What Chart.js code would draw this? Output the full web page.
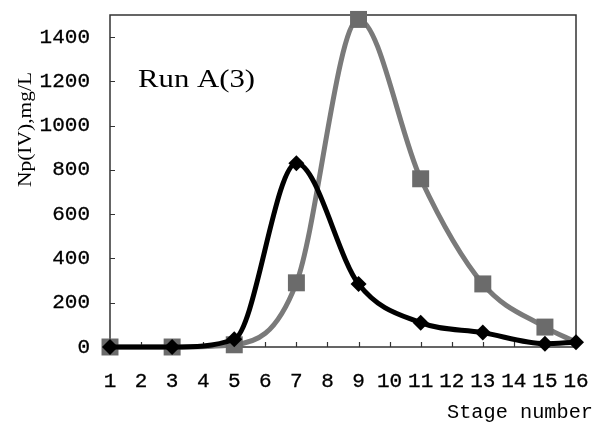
<!DOCTYPE html>
<html>
<head>
<meta charset="utf-8">
<script src="https://cdn.jsdelivr.net/npm/chart.js@4/dist/chart.umd.min.js"></script>
<style>
  html, body { margin: 0; padding: 0; background: #fff; }
  #wrap { position: relative; width: 593px; height: 431px; }
</style>
</head>
<body>
<div id="wrap"><canvas id="c" width="593" height="431"></canvas></div>
<script>
// stages sampled in the run
var stages = [1, 3, 5, 7, 9, 11, 13, 15, 16];
// Np(IV) mg/L, diamonds (black) and squares (grey)
var diamondSeries = [0, 0, 35, 830, 285, 110, 65, 15, 22];
var squareSeries = [0, 0, 10, 290, 1480, 760, 285, 90, 22];
var yTicks = [0, 200, 400, 600, 800, 1000, 1200, 1400];
var xTicks = [1, 2, 3, 4, 5, 6, 7, 8, 9, 10, 11, 12, 13, 14, 15, 16];

function pts(vals) {
  return stages.map(function (s, i) { return { x: s, y: vals[i] }; });
}

// draw text squeezed/stretched to a given width
function fitText(ctx, txt, x, y, w) {
  var m = ctx.measureText(txt).width;
  ctx.save();
  ctx.translate(x, y);
  ctx.scale(w / m, 1);
  ctx.fillText(txt, 0, 0);
  ctx.restore();
}

function noPad(s) {
  s.paddingTop = 0; s.paddingBottom = 0; s.paddingLeft = 0; s.paddingRight = 0;
}

var frame = {
  id: "frame",
  beforeDatasetsDraw: function (chart) {
    var ctx = chart.ctx, a = chart.chartArea;
    var x = chart.scales.x, y = chart.scales.y;
    ctx.save();
    ctx.strokeStyle = "#333";
    ctx.lineWidth = 1.5;
    ctx.strokeRect(a.left, a.top, a.right - a.left, a.bottom - a.top);
    ctx.lineWidth = 1.2;
    ctx.beginPath();
    yTicks.forEach(function (v) {
      var py = Math.round(y.getPixelForValue(v)) + 0.5;
      ctx.moveTo(a.left, py); ctx.lineTo(a.left + 5, py);
    });
    xTicks.forEach(function (v) {
      var px = Math.round(x.getPixelForValue(v)) + 0.5;
      ctx.moveTo(px, a.bottom); ctx.lineTo(px, a.bottom - 5);
    });
    ctx.stroke();
    ctx.restore();
  },
  afterDraw: function (chart) {
    var ctx = chart.ctx;
    ctx.save();
    ctx.fillStyle = "#000";
    ctx.textBaseline = "alphabetic";
    ctx.textAlign = "left";
    ctx.font = "26px 'Liberation Serif'";
    fitText(ctx, "Run A(3)", 138, 87, 117);
    ctx.font = "20px 'Liberation Mono'";
    fitText(ctx, "Stage number", 447, 418, 146);
    // y axis title, rotated
    ctx.save();
    ctx.translate(31, 187);
    ctx.rotate(-Math.PI / 2);
    ctx.font = "19px 'Liberation Serif'";
    fitText(ctx, "Np(IV),mg/L", 0, 0, 115);
    ctx.restore();
    ctx.restore();
  }
};

var tickFont = { family: "'Liberation Mono'", size: 21 };

new Chart(document.getElementById("c"), {
  type: "line",
  data: {
    datasets: [{
      label: "diamonds",
      data: pts(diamondSeries),
      borderColor: "#000",
      backgroundColor: "#000",
      borderWidth: 5,
      pointStyle: "rectRot",
      pointRadius: 8,
      pointBorderWidth: 0,
      cubicInterpolationMode: "monotone",
      clip: false
    }, {
      label: "squares",
      data: pts(squareSeries),
      borderColor: "#7a7a7a",
      backgroundColor: "#6b6b6b",
      borderWidth: 5,
      pointStyle: "rect",
      // last point sits under the diamond, no square drawn there
      pointRadius: stages.map(function (s) { return s === 16 ? 0 : 12; }),
      pointBorderWidth: 0,
      cubicInterpolationMode: "monotone",
      clip: false
    }]
  },
  options: {
    responsive: false,
    animation: false,
    layout: { padding: { left: 0, top: 15, right: 17, bottom: 0 } },
    plugins: { legend: { display: false }, tooltip: { enabled: false } },
    scales: {
      x: {
        type: "linear",
        min: 1,
        max: 16,
        afterBuildTicks: function (s) { s.ticks = xTicks.map(function (v) { return { value: v }; }); },
        afterFit: function (s) { s.height = 84; noPad(s); },
        grid: { display: false, drawTicks: false },
        border: { display: false },
        ticks: { color: "#000", padding: 22, maxRotation: 0, autoSkip: false, font: tickFont, textStrokeColor: "#000", textStrokeWidth: 0.3 }
      },
      y: {
        min: 0,
        max: 1500,
        afterBuildTicks: function (s) { s.ticks = yTicks.map(function (v) { return { value: v }; }); },
        afterFit: function (s) { s.width = 110; noPad(s); },
        grid: { display: false, drawTicks: false },
        border: { display: false },
        ticks: {
          color: "#000", padding: 20, font: tickFont, textStrokeColor: "#000", textStrokeWidth: 0.3,
          callback: function (v) { return String(v); }
        }
      }
    }
  },
  plugins: [frame]
});
</script>
</body>
</html>
